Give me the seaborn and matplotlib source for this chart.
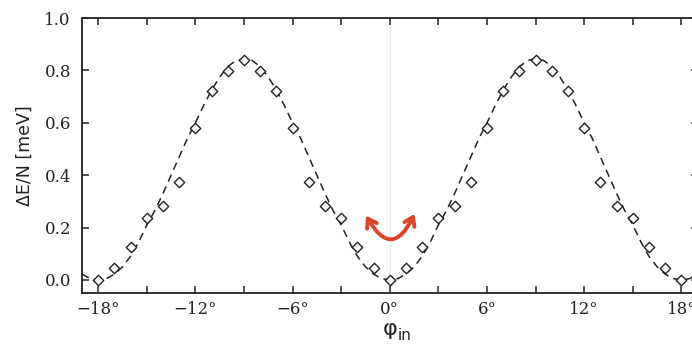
import matplotlib
matplotlib.use("Agg")
import matplotlib.pyplot as plt
from matplotlib.patches import FancyArrowPatch
import numpy as np
import pandas as pd
import seaborn as sns

# Computed energy per site vs. in-plane angle (degrees)
phi_points = [-18, -17, -16, -15, -14, -13, -12, -11, -10, -9, -8, -7, -6, -5, -4, -3,
              -2, -1, 0, 1, 2, 3, 4, 5, 6, 7, 8, 9, 10, 11, 12, 13, 14, 15, 16, 17, 18]
energy_points = [0.0, 0.047, 0.125, 0.238, 0.284, 0.374, 0.580, 0.723, 0.799, 0.841,
                 0.799, 0.723, 0.580, 0.374, 0.284, 0.238, 0.125, 0.047, 0.0,
                 0.047, 0.125, 0.238, 0.284, 0.374, 0.580, 0.723, 0.799, 0.841,
                 0.799, 0.723, 0.580, 0.374, 0.284, 0.238, 0.125, 0.047, 0.0]

# Fitted model curve
phi_fit = [-19, -18.5, -18, -17.5, -17, -16.5, -16, -15.5, -15, -14.5, -14, -13.5, -13,
           -12.5, -12, -11.5, -11, -10.5, -10, -9.5, -9, -8.5, -8, -7.5, -7, -6.5, -6,
           -5.5, -5, -4.5, -4, -3.5, -3, -2.5, -2, -1.5, -1, -0.5, 0,
           0.5, 1, 1.5, 2, 2.5, 3, 3.5, 4, 4.5, 5, 5.5, 6, 6.5, 7, 7.5, 8, 8.5, 9,
           9.5, 10, 10.5, 11, 11.5, 12, 12.5, 13, 13.5, 14, 14.5, 15, 15.5, 16, 16.5,
           17, 17.5, 18, 18.5, 19]
energy_fit = [0.022, 0.005, 0.0, 0.005, 0.022, 0.05, 0.09, 0.145, 0.21, 0.265, 0.33, 0.40,
              0.47, 0.54, 0.60, 0.665, 0.725, 0.775, 0.815, 0.838, 0.845, 0.838, 0.815,
              0.775, 0.725, 0.665, 0.60, 0.54, 0.47, 0.40, 0.33, 0.265, 0.21, 0.145, 0.09,
              0.05, 0.022, 0.005, 0.0,
              0.005, 0.022, 0.05, 0.09, 0.145, 0.21, 0.265, 0.33, 0.40, 0.47, 0.54, 0.60,
              0.665, 0.725, 0.775, 0.815, 0.838, 0.845, 0.838, 0.815, 0.775, 0.725, 0.665,
              0.60, 0.54, 0.47, 0.40, 0.33, 0.265, 0.21, 0.145, 0.09, 0.05, 0.022, 0.005,
              0.0, 0.005, 0.022]

x_ticks = [-18, -12, -6, 0, 6, 12, 18]
x_tick_labels = ["\u221218\u00b0", "\u221212\u00b0", "\u22126\u00b0", "0\u00b0", "6\u00b0", "12\u00b0", "18\u00b0"]
x_minor_ticks = [-15, -9, -3, 3, 9, 15]
y_ticks = [0.0, 0.2, 0.4, 0.6, 0.8, 1.0]
y_tick_labels = ["0.0", "0.2", "0.4", "0.6", "0.8", "1.0"]

sns.set_theme(style="ticks")
plt.rcParams["font.family"] = ["DejaVu Sans"]

df_pts = pd.DataFrame({"phi": phi_points, "E": energy_points})
df_fit = pd.DataFrame({"phi": phi_fit, "E": energy_fit})

fig = plt.figure(figsize=(6.92, 3.48), dpi=100)
fig.patch.set_facecolor("white")
ax = fig.add_axes([0.1185, 0.158, 0.8896, 0.790])

ax.axvline(0, color="#ececec", lw=0.8, zorder=0)

sns.lineplot(data=df_fit, x="phi", y="E", ax=ax, color="#222222", lw=1.1,
             linestyle=(0, (5, 3.5)), zorder=2)
sns.scatterplot(data=df_pts, x="phi", y="E", ax=ax, marker="D", s=28,
                facecolor="white", edgecolor="#222222", linewidth=1.0, zorder=3)

# Curved double arrow around the minimum
arrow = FancyArrowPatch((-1.55, 0.255), (1.6, 0.262),
                        connectionstyle="arc3,rad=1.0",
                        arrowstyle="<->,head_length=6,head_width=4",
                        color="#d9442b", lw=2.8, zorder=4)
ax.add_patch(arrow)

ax.set_xlim(-19, 19)
ax.set_ylim(-0.05, 1.0)
ax.set_xticks(x_ticks)
ax.set_xticklabels(x_tick_labels)
ax.set_xticks(x_minor_ticks, minor=True)
ax.set_yticks(y_ticks)
ax.set_yticklabels(y_tick_labels)

for lab in ax.get_xticklabels() + ax.get_yticklabels():
    lab.set_family("DejaVu Serif")
    lab.set_fontsize(12)
    lab.set_color("#222222")

ax.tick_params(which="both", direction="in", length=5, width=1.1, color="#222222",
               top=True, right=True)
ax.tick_params(axis="x", which="major", pad=6)
ax.tick_params(axis="y", which="major", pad=8)

for sp in ax.spines.values():
    sp.set_linewidth(1.3)
    sp.set_color("#222222")
    sp.set_visible(True)

ax.set_ylabel("\u0394E/N [meV]", fontsize=12.5, color="#222222", labelpad=8)
ax.set_xlabel("")
fig.text(390 / 692, 1 - 329 / 348, "\u03c6", fontsize=16, color="#222222",
         ha="center", va="center")
fig.text(398 / 692, 1 - 336 / 348, "in", fontsize=11, color="#222222",
         ha="left", va="center")

fig.savefig("out.png", dpi=100, facecolor="white")
